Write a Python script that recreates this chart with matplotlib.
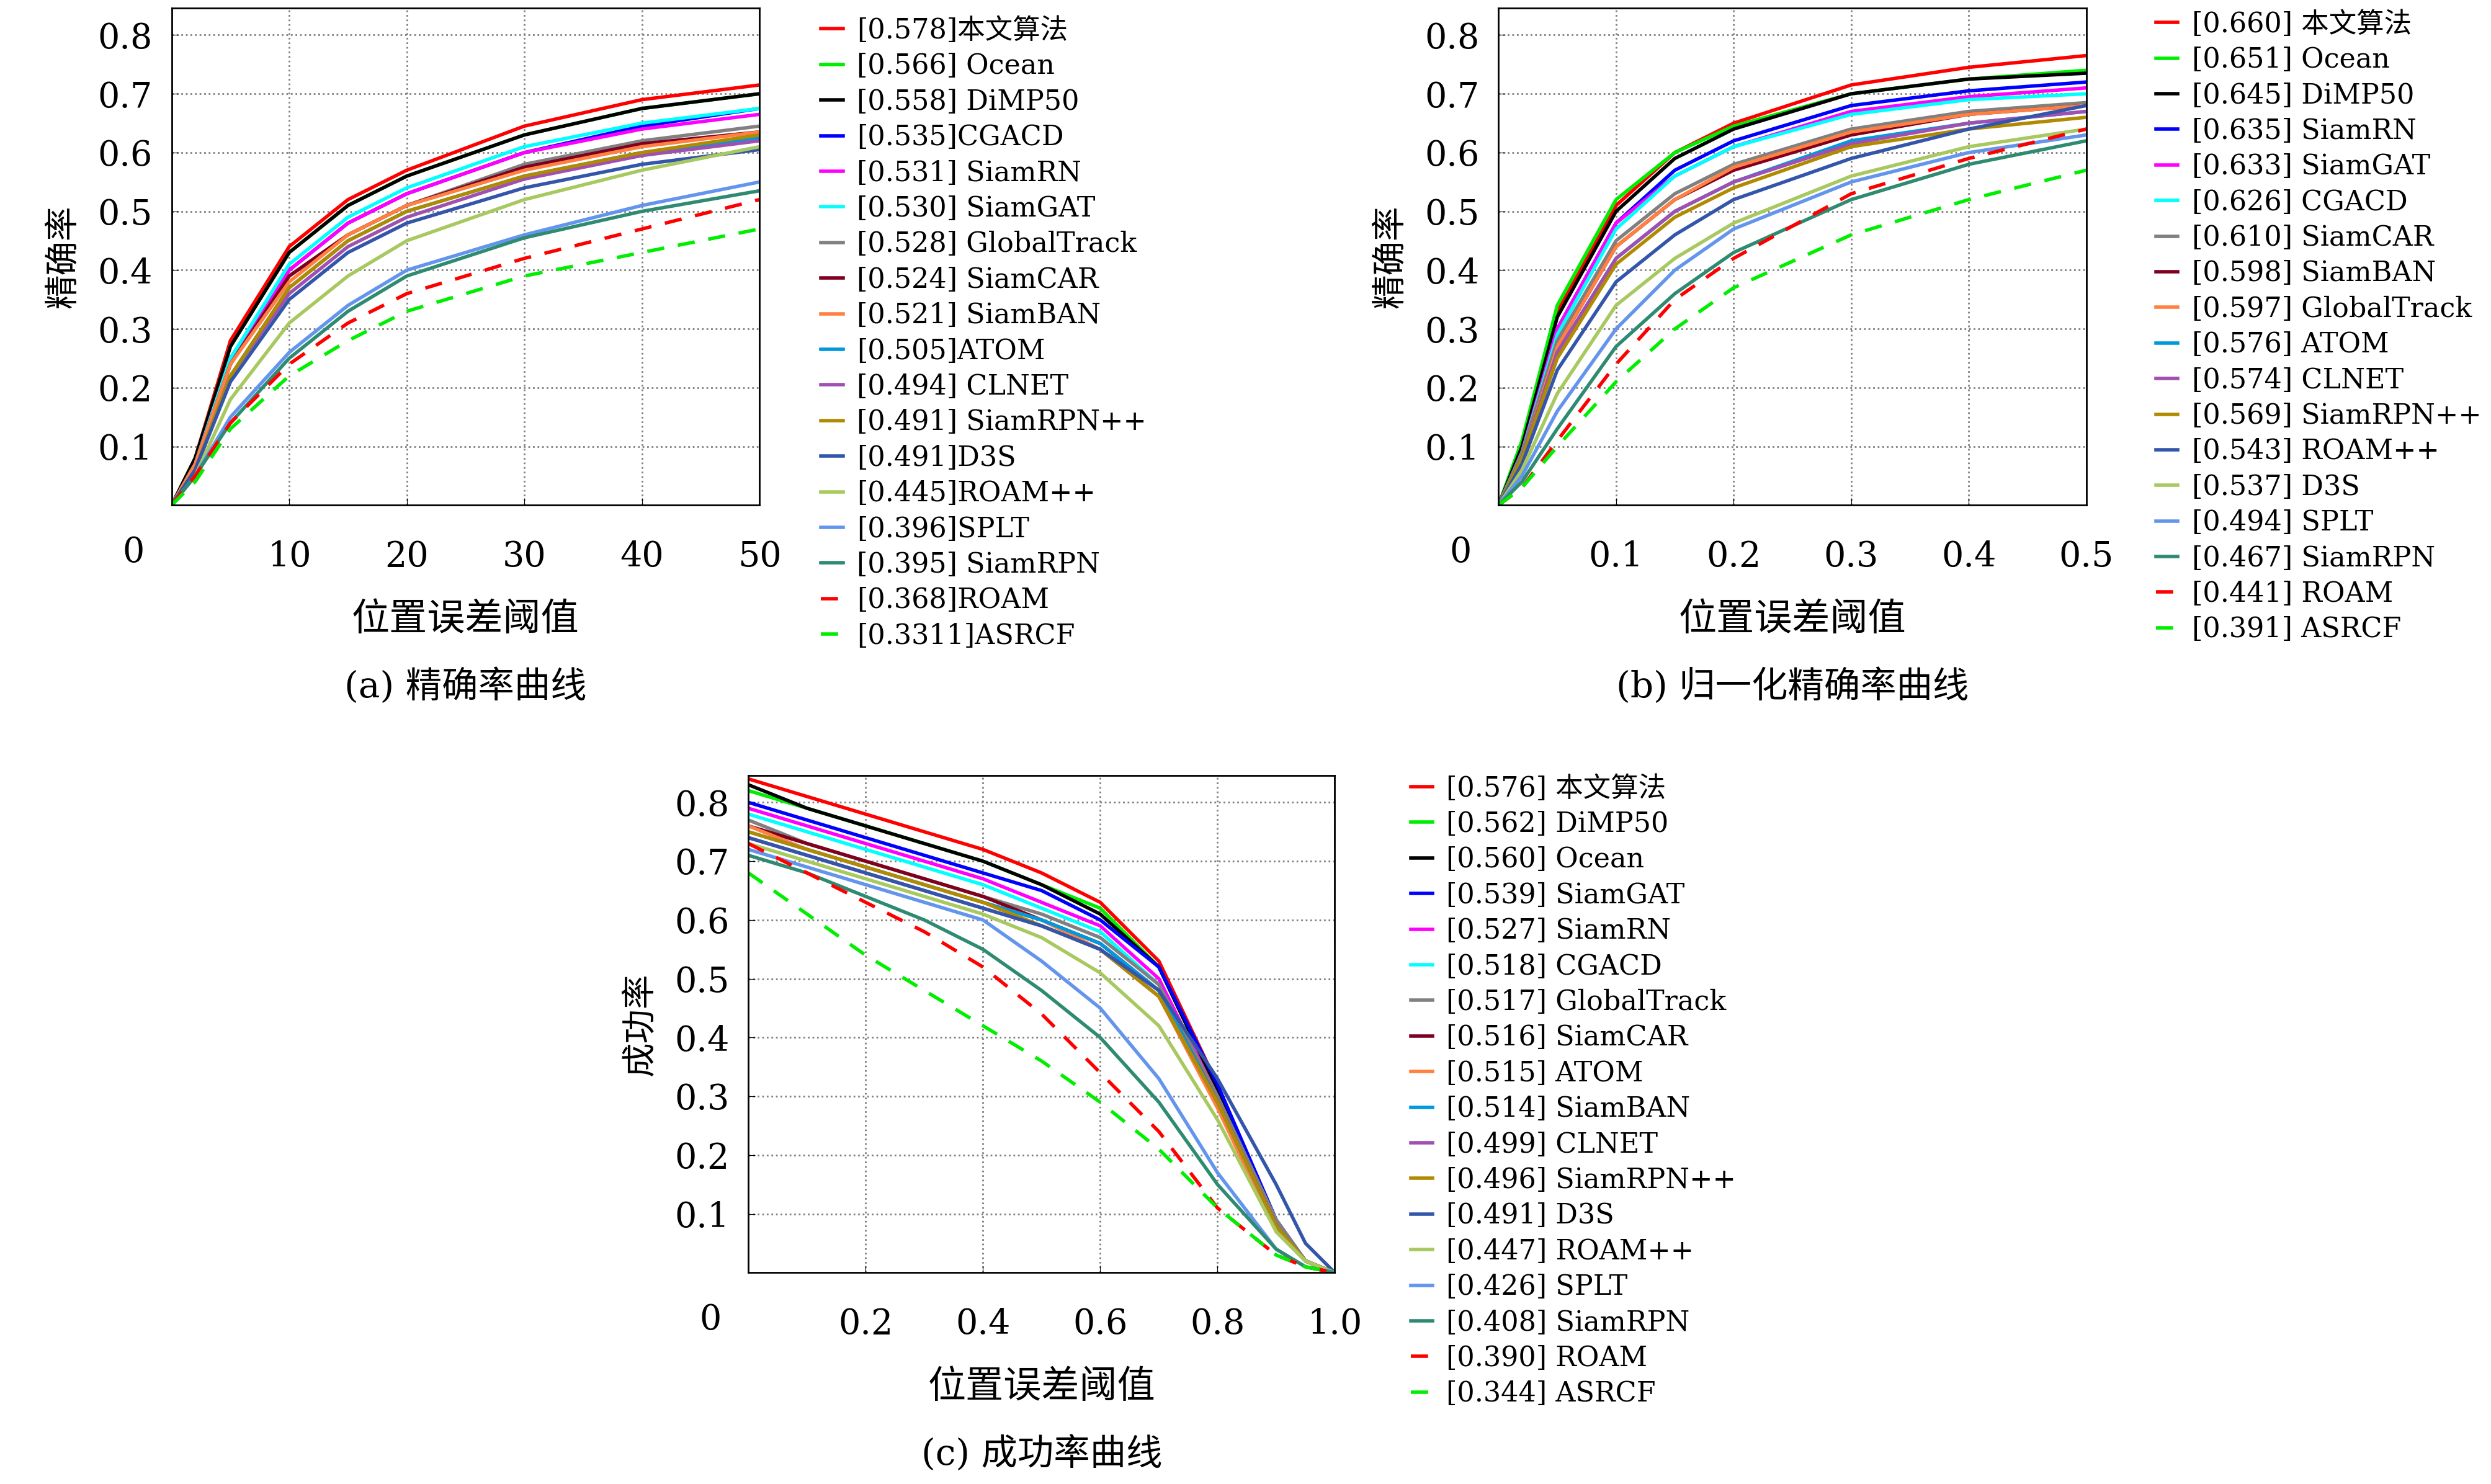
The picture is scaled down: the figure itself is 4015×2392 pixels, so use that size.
import matplotlib.pyplot as plt

plt.rcParams['font.family'] = ['DejaVu Serif', 'Noto Sans CJK SC']

colors = ['#ff0000', '#00ee00', '#000000', '#0000ff', '#ff00ff', '#00ffff', '#808080', '#800020',
          '#ff8040', '#0099dd', '#a050b0', '#b08a00', '#3355aa', '#a8c860', '#6495ed', '#2e8b72',
          '#ff0000', '#00ee00']
styles = ['-'] * 16 + ['--', '--']

# (a) precision
names_a = ['本文算法', 'Ocean', 'DiMP50', 'CGACD', 'SiamRN', 'SiamGAT', 'GlobalTrack', 'SiamCAR', 'SiamBAN',
           'ATOM', 'CLNET', 'SiamRPN++', 'D3S', 'ROAM++', 'SPLT', 'SiamRPN', 'ROAM', 'ASRCF']
auc_a = ['[0.578]', '[0.566] ', '[0.558] ', '[0.535]', '[0.531] ', '[0.530] ', '[0.528] ', '[0.524] ',
         '[0.521] ', '[0.505]', '[0.494] ', '[0.491] ', '[0.491]', '[0.445]', '[0.396]', '[0.395] ',
         '[0.368]', '[0.3311]']
x_a = [0, 2, 5, 10, 15, 20, 30, 40, 50]
y_a = [
    [0, .08, .28, .44, .52, .57, .645, .69, .715],
    [0, .08, .27, .43, .51, .56, .63, .675, .70],
    [0, .08, .27, .43, .51, .56, .63, .675, .70],
    [0, .07, .25, .40, .48, .53, .60, .645, .675],
    [0, .07, .25, .40, .48, .53, .60, .64, .665],
    [0, .07, .25, .41, .49, .54, .61, .65, .675],
    [0, .07, .24, .39, .46, .51, .58, .62, .645],
    [0, .07, .24, .39, .46, .51, .575, .615, .635],
    [0, .07, .24, .38, .46, .51, .57, .61, .635],
    [0, .06, .22, .37, .45, .50, .56, .60, .625],
    [0, .06, .22, .36, .44, .49, .555, .595, .62],
    [0, .06, .22, .37, .45, .50, .56, .60, .63],
    [0, .06, .21, .35, .43, .48, .54, .58, .605],
    [0, .05, .18, .31, .39, .45, .52, .57, .61],
    [0, .05, .15, .26, .34, .40, .46, .51, .55],
    [0, .05, .14, .25, .33, .39, .455, .50, .535],
    [0, .05, .14, .24, .31, .36, .42, .47, .52],
    [0, .04, .13, .22, .28, .33, .39, .43, .47],
]

# (b) normalized precision
names_b = ['本文算法', 'Ocean', 'DiMP50', 'SiamRN', 'SiamGAT', 'CGACD', 'SiamCAR', 'SiamBAN', 'GlobalTrack',
           'ATOM', 'CLNET', 'SiamRPN++', 'ROAM++', 'D3S', 'SPLT', 'SiamRPN', 'ROAM', 'ASRCF']
auc_b = ['0.660', '0.651', '0.645', '0.635', '0.633', '0.626', '0.610', '0.598', '0.597',
         '0.576', '0.574', '0.569', '0.543', '0.537', '0.494', '0.467', '0.441', '0.391']
x_b = [0, .02, .05, .1, .15, .2, .3, .4, .5]
y_b = [
    [0, .10, .33, .51, .60, .65, .715, .745, .765],
    [0, .11, .34, .52, .60, .645, .70, .725, .74],
    [0, .10, .32, .50, .59, .64, .70, .725, .735],
    [0, .09, .30, .48, .57, .62, .68, .705, .72],
    [0, .09, .30, .48, .56, .61, .67, .695, .71],
    [0, .09, .29, .47, .56, .61, .665, .69, .70],
    [0, .09, .28, .45, .53, .58, .64, .67, .685],
    [0, .08, .27, .44, .52, .57, .63, .665, .68],
    [0, .08, .27, .44, .52, .575, .635, .665, .68],
    [0, .08, .26, .42, .50, .55, .62, .65, .67],
    [0, .08, .26, .42, .50, .55, .615, .65, .67],
    [0, .08, .25, .41, .49, .54, .61, .64, .66],
    [0, .07, .23, .38, .46, .52, .59, .64, .68],
    [0, .06, .19, .34, .42, .48, .56, .61, .64],
    [0, .05, .16, .30, .40, .47, .55, .60, .63],
    [0, .04, .13, .27, .36, .43, .52, .58, .62],
    [0, .03, .11, .24, .35, .42, .53, .59, .64],
    [0, .03, .10, .21, .30, .37, .46, .52, .57],
]

# (c) success
names_c = ['本文算法', 'DiMP50', 'Ocean', 'SiamGAT', 'SiamRN', 'CGACD', 'GlobalTrack', 'SiamCAR', 'ATOM',
           'SiamBAN', 'CLNET', 'SiamRPN++', 'D3S', 'ROAM++', 'SPLT', 'SiamRPN', 'ROAM', 'ASRCF']
auc_c = ['0.576', '0.562', '0.560', '0.539', '0.527', '0.518', '0.517', '0.516', '0.515',
         '0.514', '0.499', '0.496', '0.491', '0.447', '0.426', '0.408', '0.390', '0.344']
x_c = [0, .1, .2, .3, .4, .5, .6, .7, .8, .9, .95, 1.0]
y_c = [
    [.84, .81, .78, .75, .72, .68, .63, .53, .32, .08, .02, 0],
    [.82, .79, .76, .73, .70, .66, .62, .52, .31, .08, .02, 0],
    [.83, .79, .76, .73, .70, .66, .61, .52, .31, .08, .02, 0],
    [.80, .77, .74, .71, .68, .65, .60, .52, .32, .09, .02, 0],
    [.79, .76, .73, .70, .67, .63, .59, .50, .30, .08, .02, 0],
    [.78, .75, .72, .69, .66, .62, .58, .49, .29, .07, .02, 0],
    [.77, .73, .70, .67, .64, .61, .57, .49, .30, .09, .02, 0],
    [.76, .73, .70, .67, .64, .60, .56, .48, .29, .08, .02, 0],
    [.76, .72, .69, .66, .63, .60, .55, .47, .28, .07, .02, 0],
    [.75, .72, .69, .66, .63, .60, .56, .48, .29, .08, .02, 0],
    [.74, .71, .68, .65, .62, .59, .55, .47, .29, .08, .02, 0],
    [.75, .72, .69, .66, .63, .59, .55, .47, .29, .08, .02, 0],
    [.74, .71, .68, .65, .62, .59, .55, .48, .33, .15, .05, 0],
    [.73, .70, .67, .64, .61, .57, .51, .42, .26, .07, .02, 0],
    [.72, .69, .66, .63, .60, .53, .45, .33, .17, .04, .01, 0],
    [.71, .68, .64, .60, .55, .48, .40, .29, .15, .04, .01, 0],
    [.73, .68, .63, .58, .52, .44, .34, .24, .11, .03, .01, 0],
    [.68, .61, .54, .48, .42, .36, .29, .21, .11, .03, .01, 0],
]

W, H = 1568, 934
fig = plt.figure(figsize=(40.16, 23.92), dpi=100)


def panel(l, t, r, b, x, ys, labels, xmax, xticks, xtl, ylabel, caption, leg_x, leg_y):
    ax = fig.add_axes([l / W, 1 - b / H, (r - l) / W, (b - t) / H])
    for i, yv in enumerate(ys):
        ax.plot(x, yv, color=colors[i], ls=styles[i], lw=4, dashes=(5, 4) if styles[i] == '--' else (None, None),
                label=labels[i])
    ax.set_xlim(0, xmax)
    ax.set_ylim(0, 0.846)
    ax.set_xticks(xticks)
    ax.set_xticklabels(xtl)
    ax.set_yticks([.1, .2, .3, .4, .5, .6, .7, .8])
    ax.set_yticklabels(['0.1', '0.2', '0.3', '0.4', '0.5', '0.6', '0.7', '0.8'])
    ax.tick_params(direction='in', labelsize=40, pad=22, length=8)
    ax.tick_params(axis='x', pad=40)
    ax.grid(True, color='gray', ls=':', lw=2)
    for s in ax.spines.values():
        s.set_linewidth(2)
    ax.text(-0.065, -0.095, '0', transform=ax.transAxes, fontsize=40, ha='center', va='center')
    ax.set_ylabel(ylabel, fontsize=40, labelpad=20)
    cx = (l + r) / 2 / W
    fig.text(cx, 1 - (b + 72) / H, '位置误差阈值', fontsize=44, ha='center', va='center')
    fig.text(cx, 1 - (b + 114) / H, caption, fontsize=42, ha='center', va='center')
    fig.legend(handles=ax.get_lines(), loc='upper left', bbox_to_anchor=(leg_x / W, 1 - leg_y / H),
               frameon=False, fontsize=32, handlelength=0.8, handletextpad=0.5, labelspacing=0.32,
               borderpad=0)


lab_a = [auc_a[i] + names_a[i] for i in range(18)]
lab_b = ['[' + auc_b[i] + '] ' + names_b[i] for i in range(18)]
lab_c = ['[' + auc_c[i] + '] ' + names_c[i] for i in range(18)]

panel(108, 5, 478, 318, x_a, y_a, lab_a, 50, [10, 20, 30, 40, 50], ['10', '20', '30', '40', '50'],
      '精确率', '(a) 精确率曲线', 508, 2)
panel(943, 5, 1313, 318, x_b, y_b, lab_b, 0.5, [.1, .2, .3, .4, .5], ['0.1', '0.2', '0.3', '0.4', '0.5'],
      '精确率', '(b) 归一化精确率曲线', 1348, -2)
panel(471, 488, 840, 801, x_c, y_c, lab_c, 1.0, [.2, .4, .6, .8, 1.0], ['0.2', '0.4', '0.6', '0.8', '1.0'],
      '成功率', '(c) 成功率曲线', 879, 479)

fig.savefig('out.png', dpi=100)
